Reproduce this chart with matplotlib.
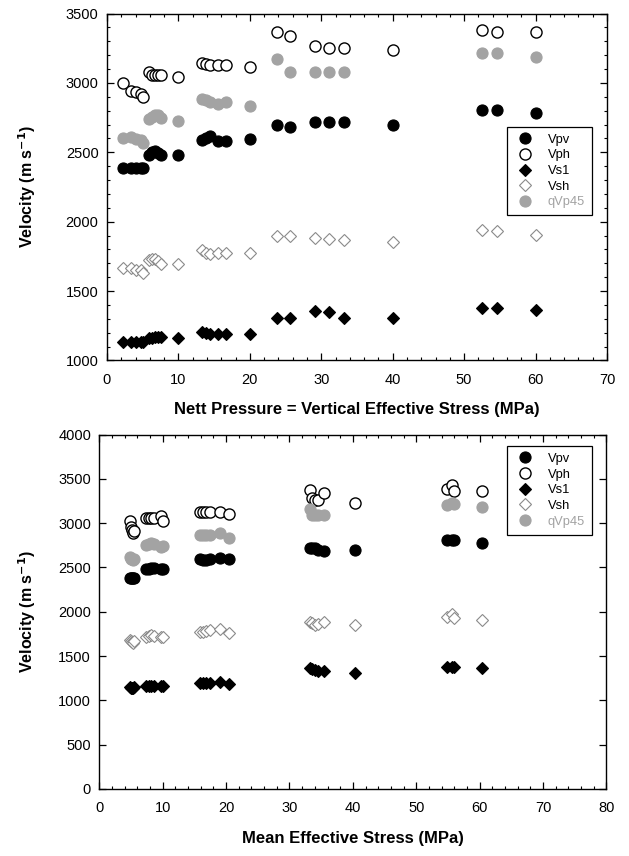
import numpy as np
import matplotlib.pyplot as plt
from matplotlib.ticker import MultipleLocator

plt.rcParams['font.family'] = ['Liberation Sans', 'DejaVu Sans']

nan = np.nan

# --- top panel: vertical effective stress (MPa) ---
x_top = [2.2, 3.4, 4.1, 4.8, 5.1, 5.9, 6.3, 6.7, 7.1, 7.5, 9.9, 13.3, 13.9, 14.4, 15.5,
         16.7, 20.0, 23.8, 25.6, 29.1, 31.1, 33.2, 40.0, 52.5, 54.6, 60.0]
vpv_top = [2387, 2385, 2385, 2385, 2385, 2483, 2500, 2506, 2495, 2483, 2483, 2590, 2600,
           2614, 2578, 2578, 2595, 2698, 2682, 2720, 2720, 2720, 2700, 2806, 2806, 2782]
vph_top = [3002, 2945, 2933, 2919, 2895, 3077, 3058, 3058, 3058, 3058, 3041, 3146, 3137,
           3130, 3130, 3130, 3118, 3369, 3340, 3269, 3252, 3252, 3238, 3381, 3367, 3367]
vs1_top = [1136, 1133, 1133, 1133, 1130, 1160, 1165, 1167, 1167, 1167, 1160, 1203, 1195,
           1193, 1193, 1193, 1188, 1308, 1308, 1356, 1350, 1308, 1308, 1380, 1380, 1363]
vsh_top = [1668, 1665, 1655, 1649, 1632, 1723, 1728, 1728, 1716, 1697, 1697, 1795, 1777,
           1770, 1777, 1773, 1777, 1900, 1895, 1884, 1872, 1867, 1855, 1943, 1931, 1903]
qvp45_top = [2603, 2610, 2598, 2590, 2570, 2740, 2754, 2770, 2770, 2747, 2722, 2883, 2875,
             2866, 2849, 2866, 2835, 3171, 3082, 3082, 3082, 3082, nan, 3214, 3214, 3189]

# --- bottom panel: mean effective stress (MPa) ---
x_bot = [4.9, 5.0, 5.1, 5.3, 5.5, 7.4, 7.8, 8.2, 8.6, 9.7, 10.0, 15.9, 16.4, 16.8, 17.5,
         19.1, 20.4, 33.3, 33.5, 34.1, 34.5, 35.4, 40.3, 54.8, 55.6, 55.9, 60.4]
vpv_bot = [2380, 2380, 2378, 2380, 2380, 2480, 2485, 2490, 2490, 2480, 2480, 2593, 2585,
           2585, 2590, 2605, 2593, 2717, 2717, 2717, 2700, 2680, 2698, 2811, 2811, 2811, 2781]
vph_bot = [3020, 2960, 2920, 2890, 2910, 3056, 3060, 3056, 3060, 3075, 3029, 3120, 3120,
           3125, 3120, 3131, 3105, 3376, 3282, 3263, 3265, 3338, 3232, 3384, 3432, 3357, 3368]
vs1_bot = [1148, 1145, 1140, 1145, 1150, 1163, 1165, 1165, 1163, 1163, 1163, 1193, 1193,
           1193, 1195, 1211, 1185, 1363, 1350, 1344, 1336, 1336, 1313, 1381, 1381, 1381, 1370]
vsh_bot = [1683, 1670, 1660, 1652, 1665, 1720, 1730, 1739, 1725, 1720, 1720, 1777, 1777,
           1785, 1795, 1803, 1758, 1889, 1870, 1852, 1860, 1889, 1852, 1946, 1972, 1927, 1908]
qvp45_bot = [2620, 2600, 2590, 2580, 2595, 2755, 2760, 2774, 2770, 2736, 2740, 2868, 2868,
             2868, 2870, 2894, 2830, 3160, 3090, 3090, 3090, 3090, nan, 3206, 3225, 3215, 3187]

GREY = '#a3a3a3'
styles = {
    'Vpv': dict(marker='o', ms=8.0, mfc='black', mec='black', mew=0.8),
    'Vph': dict(marker='o', ms=8.0, mfc='white', mec='black', mew=1.0),
    'Vs1': dict(marker='D', ms=6.2, mfc='black', mec='black', mew=0.8),
    'Vsh': dict(marker='D', ms=6.2, mfc='white', mec='#8a8a8a', mew=0.8),
    'qVp45': dict(marker='o', ms=8.0, mfc=GREY, mec=GREY, mew=0.8),
}


def draw(ax, x, series, leg_loc, leg_anchor):
    # order of drawing matches legend order
    for name, vals in series:
        ax.plot(x, vals, ls='none', label=name, **styles[name])
    ax.tick_params(which='both', direction='in', top=True, right=True,
                   labelsize=10.5)
    ax.tick_params(axis='x', which='both', pad=9)
    ax.tick_params(axis='y', which='both', pad=6)
    ax.tick_params(which='major', length=5, width=0.9)
    ax.tick_params(which='minor', length=2.5, width=0.8)
    for s in ax.spines.values():
        s.set_linewidth(1.0)
    leg = ax.legend(loc=leg_loc, bbox_to_anchor=leg_anchor, fontsize=9.3,
                    fancybox=False, framealpha=1, edgecolor='black',
                    handletextpad=0.9, borderpad=0.55, labelspacing=0.28,
                    handlelength=1.7, borderaxespad=0.0)
    leg.get_frame().set_linewidth(0.9)
    leg.texts[-1].set_color(GREY)
    return leg


fig = plt.figure(figsize=(6.29, 8.56), dpi=100)

ax1 = fig.add_axes([0.170, 0.5789, 0.795, 0.4053])
draw(ax1, x_top, [('Vpv', vpv_top), ('Vph', vph_top), ('Vs1', vs1_top),
                  ('Vsh', vsh_top), ('qVp45', qvp45_top)],
     'center right', (0.970, 0.546))
ax1.set_xlim(0, 70)
ax1.set_ylim(1000, 3500)
ax1.xaxis.set_major_locator(MultipleLocator(10))
ax1.xaxis.set_minor_locator(MultipleLocator(2))
ax1.yaxis.set_major_locator(MultipleLocator(500))
ax1.yaxis.set_minor_locator(MultipleLocator(100))
ax1.set_xlabel('Nett Pressure = Vertical Effective Stress (MPa)', fontsize=12,
               fontweight='bold', labelpad=11)
ax1.set_ylabel('Velocity (m s$^{\\mathbf{-1}}$)', fontsize=11.5, fontweight='bold')
ax1.yaxis.set_label_coords(-0.138, 0.5)

ax2 = fig.add_axes([0.158, 0.0783, 0.806, 0.4141])
draw(ax2, x_bot, [('Vpv', vpv_bot), ('Vph', vph_bot), ('Vs1', vs1_bot),
                  ('Vsh', vsh_bot), ('qVp45', qvp45_bot)],
     'upper right', (0.972, 0.968))
ax2.set_xlim(0, 80)
ax2.set_ylim(0, 4000)
ax2.xaxis.set_major_locator(MultipleLocator(10))
ax2.xaxis.set_minor_locator(MultipleLocator(2))
ax2.yaxis.set_major_locator(MultipleLocator(500))
ax2.set_xlabel('Mean Effective Stress (MPa)', fontsize=12, fontweight='bold',
               labelpad=11)
ax2.set_ylabel('Velocity (m s$^{\\mathbf{-1}}$)', fontsize=11.5, fontweight='bold')
ax2.yaxis.set_label_coords(-0.122, 0.5)

fig.savefig('out.png', dpi=100)
